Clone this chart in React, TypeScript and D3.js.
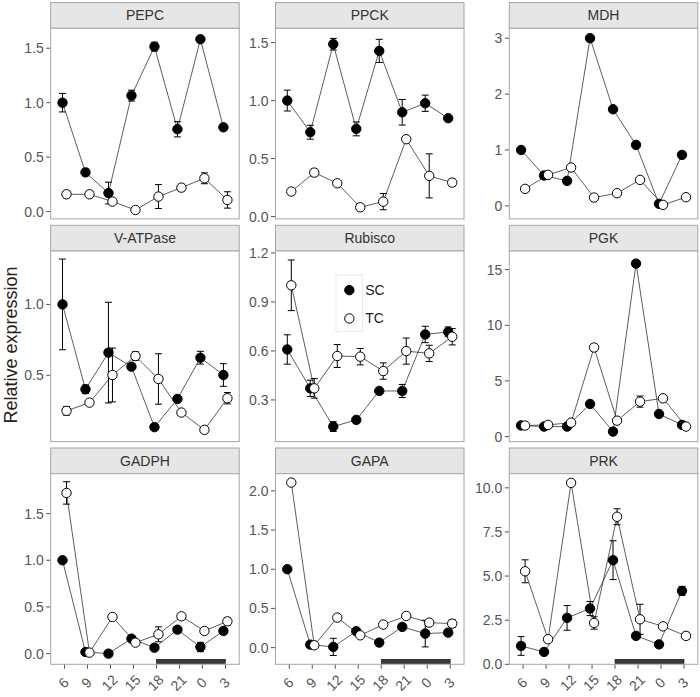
import React from "react";
import * as d3 from "d3";

const times = ["6", "9", "12", "15", "18", "21", "0", "3"];
const genes = ["PEPC", "PPCK", "MDH", "V-ATPase", "Rubisco", "PGK", "GADPH", "GAPA", "PRK"];
const groups = ["SC", "TC"];

// mean and standard error per gene, SC and TC
const pepcSC = [1.0, 0.36, 0.17, 1.065, 1.515, 0.756, 1.582, 0.774];
const pepcSCerr = [0.085, 0.03, 0.1, 0.05, 0.04, 0.07, 0.02, 0.02];
const pepcTC = [0.159, 0.159, 0.092, 0.015, 0.138, 0.22, 0.306, 0.107];
const pepcTCerr = [0.03, 0.03, 0.02, 0.01, 0.11, 0.03, 0.05, 0.075];

const ppckSC = [1.0, 0.727, 1.486, 0.756, 1.428, 0.899, 0.977, 0.848];
const ppckSCerr = [0.09, 0.06, 0.05, 0.06, 0.1, 0.11, 0.07, 0.02];
const ppckTC = [0.216, 0.379, 0.287, 0.08, 0.129, 0.667, 0.351, 0.293];
const ppckTCerr = [0.02, 0.03, 0.02, 0.02, 0.07, 0.01, 0.19, 0.03];

const mdhSC = [1.0, 0.543, 0.447, 3.0, 1.729, 1.091, 0.036, 0.912];
const mdhSCerr = [0.03, 0.03, 0.03, 0.02, 0.03, 0.03, 0.03, 0.03];
const mdhTC = [0.304, 0.555, 0.686, 0.149, 0.227, 0.465, 0.018, 0.155];
const mdhTCerr = [0.05, 0.02, 0.02, 0.03, 0.02, 0.03, 0.02, 0.04];

const vatpSC = [1.0, 0.401, 0.66, 0.561, 0.134, 0.333, 0.624, 0.502];
const vatpSCerr = [0.32, 0.03, 0.355, 0.02, 0.02, 0.02, 0.045, 0.08];
const vatpTC = [0.249, 0.307, 0.502, 0.636, 0.474, 0.237, 0.115, 0.338];
const vatpTCerr = [0.03, 0.02, 0.19, 0.03, 0.178, 0.02, 0.01, 0.04];

const rubSC = [0.609, 0.371, 0.137, 0.178, 0.355, 0.355, 0.701, 0.717];
const rubSCerr = [0.09, 0.05, 0.03, 0.01, 0.01, 0.04, 0.05, 0.03];
const rubTC = [1.002, 0.371, 0.569, 0.565, 0.477, 0.599, 0.585, 0.687];
const rubTCerr = [0.155, 0.06, 0.07, 0.05, 0.05, 0.08, 0.05, 0.05];

const pgkSC = [1.0, 0.9, 0.9, 2.93, 0.45, 15.54, 2.03, 1.05];
const pgkSCerr = [0.1, 0.1, 0.1, 0.15, 0.1, 0.2, 0.15, 0.1];
const pgkTC = [0.99, 1.05, 1.25, 8.0, 1.43, 3.14, 3.44, 0.9];
const pgkTCerr = [0.1, 0.1, 0.1, 0.3, 0.2, 0.5, 0.2, 0.1];

const gadphSC = [1.0, 0.018, 0.0, 0.161, 0.064, 0.257, 0.071, 0.243];
const gadphSCerr = [0.01, 0.01, 0.01, 0.01, 0.01, 0.02, 0.05, 0.02];
const gadphTC = [1.721, 0.011, 0.393, 0.118, 0.207, 0.4, 0.243, 0.346];
const gadphTCerr = [0.12, 0.01, 0.02, 0.01, 0.08, 0.02, 0.02, 0.04];

const gapaSC = [1.0, 0.038, 0.009, 0.209, 0.064, 0.264, 0.179, 0.191];
const gapaSCerr = [0.01, 0.01, 0.11, 0.01, 0.01, 0.01, 0.17, 0.03];
const gapaTC = [2.106, 0.03, 0.383, 0.157, 0.294, 0.404, 0.319, 0.306];
const gapaTCerr = [0.02, 0.01, 0.02, 0.01, 0.02, 0.02, 0.03, 0.05];

const prkSC = [1.04, 0.7, 2.63, 3.16, 5.9, 1.61, 1.13, 4.16];
const prkSCerr = [0.53, 0.05, 0.7, 0.4, 1.1, 0.1, 0.12, 0.25];
const prkTC = [5.27, 1.42, 10.28, 2.34, 8.36, 2.55, 2.15, 1.61];
const prkTCerr = [0.65, 0.1, 0.05, 0.35, 0.45, 0.85, 0.08, 0.2];

// y scale limits and tick labels per panel
const yDomains = [
  [-0.067, 1.683], [-0.02, 1.623], [-0.233, 3.177],
  [0.032, 1.377], [0.045, 1.212], [-0.45, 16.67],
  [-0.114, 1.927], [-0.213, 2.219], [0.0, 10.8],
];
const yTicks = [
  [0, 0.5, 1.0, 1.5], [0, 0.5, 1.0, 1.5], [0, 1, 2, 3],
  [0.5, 1.0], [0.3, 0.6, 0.9, 1.2], [0, 5, 10, 15],
  [0, 0.5, 1.0, 1.5], [0, 0.5, 1.0, 1.5, 2.0], [0, 2.5, 5.0, 7.5, 10.0],
];
const yFormats = [".1f", ".1f", "d", ".1f", ".1f", "d", ".1f", ".1f", ".1f"];
const darkStart = "18";
const darkEnd = "3";

const sc = [pepcSC, ppckSC, mdhSC, vatpSC, rubSC, pgkSC, gadphSC, gapaSC, prkSC];
const scErr = [pepcSCerr, ppckSCerr, mdhSCerr, vatpSCerr, rubSCerr, pgkSCerr, gadphSCerr, gapaSCerr, prkSCerr];
const tc = [pepcTC, ppckTC, mdhTC, vatpTC, rubTC, pgkTC, gadphTC, gapaTC, prkTC];
const tcErr = [pepcTCerr, ppckTCerr, mdhTCerr, vatpTCerr, rubTCerr, pgkTCerr, gadphTCerr, gapaTCerr, prkTCerr];

const FONT = "'Liberation Sans', Arial, Helvetica, sans-serif";
const colX = [50.7, 275.5, 509.3];
const rowY = [2.6, 225.3, 448.0];
const panelW = 188.5;
const stripH = 25.7;
const plotH = 190.6;
const R = 4.7;
const dodge = 2;
const cap = 3.5;
const tickCol = "#555";

function Panel({ i }: { i: number }) {
  const col = i % 3;
  const row = Math.floor(i / 3);
  const x0 = colX[col];
  const y0 = rowY[row];
  const top = y0 + stripH;
  const bottom = top + plotH;
  const x = d3.scalePoint<string>().domain(times).range([x0, x0 + panelW]).padding(0.6);
  const y = d3.scaleLinear().domain(yDomains[i]).range([bottom, top]);
  const fmt = d3.format(yFormats[i]);
  const series = [
    { key: "SC", vals: sc[i], errs: scErr[i], off: -dodge, fill: "#000" },
    { key: "TC", vals: tc[i], errs: tcErr[i], off: dodge, fill: "#fff" },
  ];
  const line = d3.line<[number, number]>();
  return (
    <g>
      {/* strip */}
      <rect x={x0} y={y0} width={panelW} height={stripH} fill="#e6e6e6" stroke="#a6a6a6" strokeWidth={1} />
      <text x={x0 + panelW / 2} y={y0 + stripH / 2 + 5} textAnchor="middle" fontSize={14} fill="#333" fontFamily={FONT}>
        {genes[i]}
      </text>
      {/* panel */}
      <rect x={x0} y={top} width={panelW} height={plotH} fill="#fff" stroke="none" />
      {/* y axis */}
      {yTicks[i].map((t) => (
        <g key={t}>
          <line x1={x0 - 4.5} x2={x0} y1={y(t)} y2={y(t)} stroke={tickCol} strokeWidth={1} />
          <text x={x0 - 7} y={y(t) + 5} textAnchor="end" fontSize={14} fill={tickCol} fontFamily={FONT}>
            {fmt(t)}
          </text>
        </g>
      ))}
      {/* x axis on bottom row */}
      {row === 2 && (
        <g>
          <rect
            x={x(darkStart)!}
            y={bottom - 5}
            width={x(darkEnd)! - x(darkStart)!}
            height={4.3}
            fill="#3a3a3a"
            stroke="#111"
            strokeWidth={0.6}
          />
          {times.map((t) => (
            <g key={t}>
              <line x1={x(t)!} x2={x(t)!} y1={bottom} y2={bottom + 4.5} stroke={tickCol} strokeWidth={1} />
              <text
                x={x(t)! - 1}
                y={bottom + 18.5}
                textAnchor="middle"
                dominantBaseline="central"
                fontSize={14}
                fill={tickCol}
                fontFamily={FONT}
                transform={`rotate(-45 ${x(t)! - 1} ${bottom + 18.5})`}
              >
                {t}
              </text>
            </g>
          ))}
        </g>
      )}
      {/* lines */}
      {series.map((s) => (
        <path
          key={"l" + s.key}
          d={line(s.vals.map((v, k) => [x(times[k])! + s.off, y(v)] as [number, number])) || ""}
          fill="none"
          stroke="#333"
          strokeWidth={0.8}
        />
      ))}
      {/* error bars */}
      {series.map((s) =>
        s.vals.map((v, k) => {
          const cx = x(times[k])! + s.off;
          const yl = y(v - s.errs[k]);
          const yh = y(v + s.errs[k]);
          return (
            <g key={"e" + s.key + k} stroke="#000" strokeWidth={1}>
              <line x1={cx} x2={cx} y1={yl} y2={yh} />
              <line x1={cx - cap} x2={cx + cap} y1={yl} y2={yl} />
              <line x1={cx - cap} x2={cx + cap} y1={yh} y2={yh} />
            </g>
          );
        })
      )}
      {/* points */}
      {series.map((s) =>
        s.vals.map((v, k) => (
          <circle
            key={"p" + s.key + k}
            cx={x(times[k])! + s.off}
            cy={y(v)}
            r={R}
            fill={s.fill}
            stroke="#000"
            strokeWidth={1}
          />
        ))
      )}
      {/* border */}
      <rect x={x0} y={top} width={panelW} height={plotH} fill="none" stroke="#a6a6a6" strokeWidth={1} />
    </g>
  );
}

function Legend() {
  const lx = 336;
  const ly = 275;
  const kw = 26.7;
  const kh = 28.3;
  return (
    <g>
      <rect x={lx} y={ly} width={kw} height={kh * 2} fill="#fff" stroke="#e3e3e3" strokeWidth={0.8} />
      {groups.map((g, k) => (
        <g key={g}>
          <circle
            cx={lx + kw / 2}
            cy={ly + kh * k + kh / 2 + 1}
            r={R}
            fill={g === "SC" ? "#000" : "#fff"}
            stroke="#000"
            strokeWidth={1}
          />
          <text x={lx + kw + 2.5} y={ly + kh * k + kh / 2 + 6} fontSize={14} fill="#222" fontFamily={FONT}>
            {g}
          </text>
        </g>
      ))}
    </g>
  );
}

export default function App() {
  return (
    <svg
      width={700}
      height={697}
      style={{ position: "absolute", left: 0, top: 0, background: "#fff" }}
    >
      <rect x={0} y={0} width={700} height={697} fill="#fff" />
      {genes.map((g, i) => (
        <Panel key={g} i={i} />
      ))}
      <Legend />
      <text
        x={17}
        y={345}
        transform="rotate(-90 17 345)"
        textAnchor="middle"
        fontSize={18}
        fill="#222"
        fontFamily={FONT}
      >
        Relative expression
      </text>
    </svg>
  );
}
